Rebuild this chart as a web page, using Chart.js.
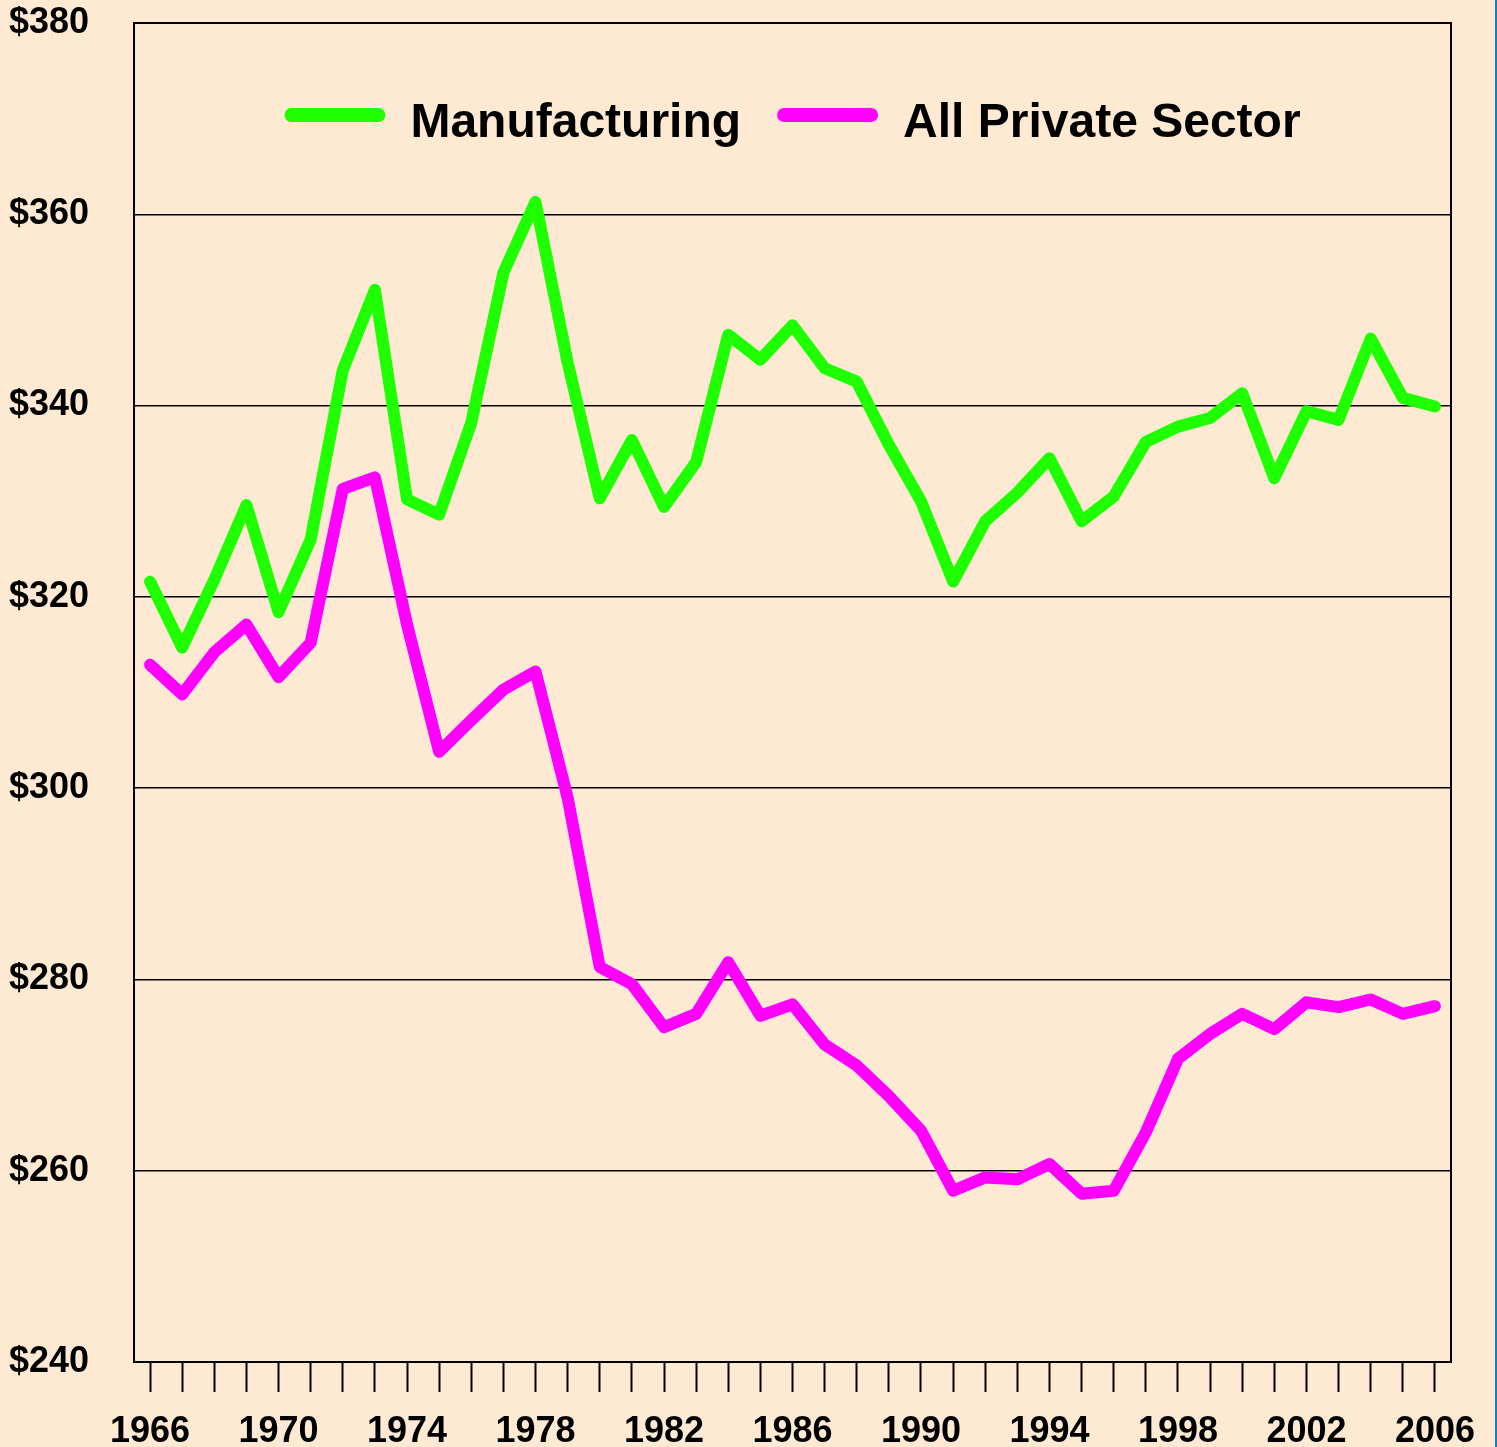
<!DOCTYPE html>
<html>
<head>
<meta charset="utf-8">
<title>Manufacturing vs All Private Sector</title>
<script src="https://cdn.jsdelivr.net/npm/chart.js@4.4.1/dist/chart.umd.min.js"></script>
<style>
  html, body { margin: 0; padding: 0; background: #feead3; overflow: hidden; }
  #wrap { position: relative; width: 1497px; height: 1447px; }
  #edge { position: absolute; right: 0; top: 0; width: 2px; height: 1447px; background: #0b7dd8; }
</style>
</head>
<body>
<div id="wrap">
  <canvas id="chart" width="1497" height="1447"></canvas>
  <div id="edge"></div>
</div>
<script>
const years = [
    "1966", "1967", "1968", "1969", "1970", "1971", "1972", "1973", "1974", "1975",
    "1976", "1977", "1978", "1979", "1980", "1981", "1982", "1983", "1984", "1985",
    "1986", "1987", "1988", "1989", "1990", "1991", "1992", "1993", "1994", "1995",
    "1996", "1997", "1998", "1999", "2000", "2001", "2002", "2003", "2004", "2005", "2006"
];

// weekly earnings, manufacturing
const manufacturing = [
    321.6, 314.7, 321.8, 329.6, 318.4, 326.0, 343.7, 352.1, 330.2, 328.6,
    338.2, 353.9, 361.3, 344.5, 330.3, 336.4, 329.4, 334.1, 347.4, 344.8,
    348.4, 343.9, 342.5, 335.9, 330.0, 321.6, 327.9, 330.9, 334.5, 327.9,
    330.5, 336.2, 337.8, 338.7, 341.3, 332.4, 339.4, 338.5, 347.0, 340.8, 339.9
];

// weekly earnings, all private sector
const allPrivate = [
    312.9, 309.8, 314.2, 317.1, 311.6, 315.2, 331.3, 332.5, 317.1, 303.8,
    307.1, 310.3, 312.2, 299.0, 281.3, 279.5, 275.0, 276.4, 281.8, 276.2,
    277.4, 273.2, 271.0, 267.8, 264.2, 257.9, 259.3, 259.1, 260.7, 257.6,
    257.9, 264.0, 271.7, 274.3, 276.4, 274.8, 277.6, 277.1, 277.9, 276.4, 277.2
];

const yMin = 240;
const yMax = 380;
const yStep = 20;
const labelEvery = 4;

const GREEN = "#1eff00";
const MAGENTA = "#ff00ff";
const FONT = "'Liberation Sans', Arial, sans-serif";

// outline the top and right sides of the plot
const frame = {
    id: "frame",
    afterDraw(chart) {
        const { ctx, chartArea } = chart;
        ctx.save();
        ctx.strokeStyle = "#000";
        ctx.lineWidth = 2;
        ctx.strokeRect(chartArea.left, chartArea.top, chartArea.right - chartArea.left, chartArea.bottom - chartArea.top);
        ctx.restore();
    }
};

// legend drawn inside the plot, near the top
const insideLegend = {
    id: "insideLegend",
    afterDatasetsDraw(chart) {
        const { ctx, chartArea } = chart;
        const swatch = 101, gap = 25, itemGap = 36;
        ctx.save();
        ctx.font = "bold 48px " + FONT;
        const sets = chart.data.datasets;
        const widths = sets.map(ds => ctx.measureText(ds.label).width);
        let total = 0;
        widths.forEach((w, i) => { total += swatch + gap + w + (i > 0 ? itemGap : 0); });
        let x = (chartArea.left + chartArea.right) / 2 - total / 2;
        const lineY = chartArea.top + 92;
        const textY = chartArea.top + 114;
        sets.forEach((ds, i) => {
            ctx.strokeStyle = ds.borderColor;
            ctx.lineWidth = 14;
            ctx.lineCap = "round";
            ctx.beginPath();
            ctx.moveTo(x + 7, lineY);
            ctx.lineTo(x + swatch - 7, lineY);
            ctx.stroke();
            ctx.fillStyle = "#000";
            ctx.textBaseline = "alphabetic";
            ctx.textAlign = "left";
            ctx.fillText(ds.label, x + swatch + gap, textY);
            x += swatch + gap + widths[i] + itemGap;
        });
        ctx.restore();
    }
};

const ctx = document.getElementById("chart").getContext("2d");

new Chart(ctx, {
    type: "line",
    data: {
        labels: years,
        datasets: [
            {
                label: "Manufacturing",
                data: manufacturing,
                borderColor: GREEN,
                backgroundColor: GREEN,
                borderWidth: 12,
                borderCapStyle: "round",
                borderJoinStyle: "round",
                pointRadius: 0,
                tension: 0,
                fill: false,
            },
            {
                label: "All Private Sector",
                data: allPrivate,
                borderColor: MAGENTA,
                backgroundColor: MAGENTA,
                borderWidth: 12,
                borderCapStyle: "round",
                borderJoinStyle: "round",
                pointRadius: 0,
                tension: 0,
                fill: false,
            },
        ],
    },
    options: {
        responsive: false,
        animation: false,
        events: [],
        layout: {
            padding: { top: 23, right: 46, bottom: 0, left: 0 },
        },
        plugins: {
            tooltip: { enabled: false },
            legend: { display: false },
        },
        scales: {
            x: {
                offset: true,
                grid: {
                    drawOnChartArea: false,
                    drawTicks: true,
                    tickLength: 30,
                    tickWidth: 2,
                    tickColor: "#000",
                    offset: false,
                },
                border: { display: true, color: "#000", width: 2 },
                ticks: {
                    autoSkip: false,
                    maxRotation: 0,
                    padding: 18,
                    color: "#000",
                    font: { family: FONT, size: 36, weight: "bold" },
                    callback: function (value, index) {
                        return index % labelEvery === 0 ? years[index] : "";
                    },
                },
                afterFit(scale) {
                    scale.height = 85;
                },
            },
            y: {
                min: yMin,
                max: yMax,
                grid: {
                    color: "#000",
                    lineWidth: 1.5,
                    drawTicks: false,
                },
                border: { display: true, color: "#000", width: 2 },
                ticks: {
                    stepSize: yStep,
                    padding: 45,
                    color: "#000",
                    font: { family: FONT, size: 36, weight: "bold" },
                    callback: function (value) {
                        return "$" + value;
                    },
                },
                afterFit(scale) {
                    scale.width = 134;
                    scale.paddingTop = 0;
                    scale.paddingBottom = 0;
                },
            },
        },
    },
    plugins: [frame, insideLegend],
});
</script>
</body>
</html>
